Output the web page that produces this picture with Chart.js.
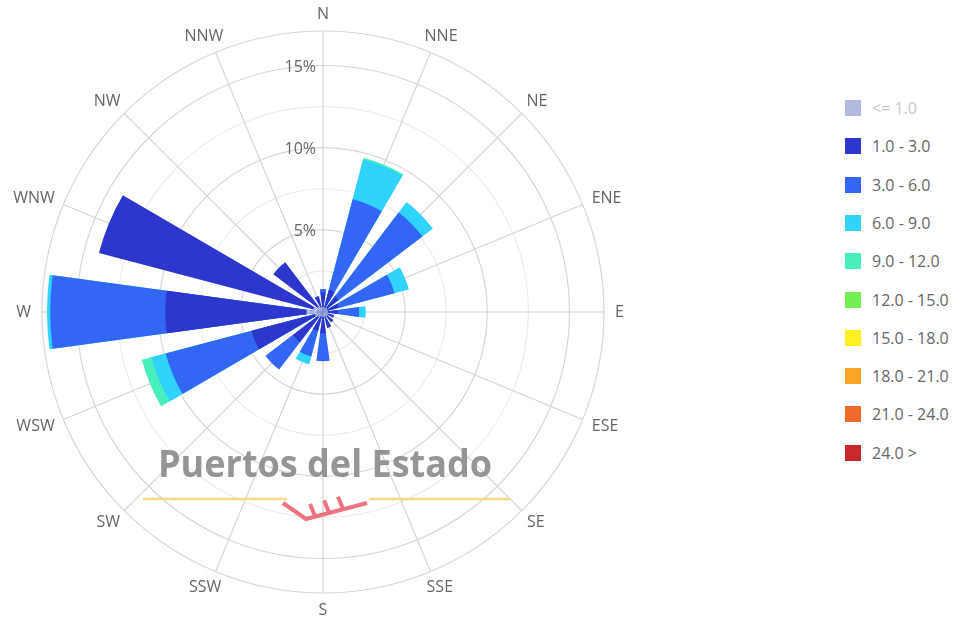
<!DOCTYPE html>
<html>
<head>
<meta charset="utf-8">
<script src="https://cdn.jsdelivr.net/npm/chart.js@4.4.1/dist/chart.umd.min.js"></script>
<style>
html,body{margin:0;padding:0;background:#fff;width:961px;height:620px;overflow:hidden;font-family:'Open Sans',sans-serif}
#wrap{position:absolute;left:0;top:0;width:640px;height:620px}
#legend{position:absolute;left:845px;top:0;width:116px;height:620px}
.item{position:absolute;left:0;height:20px;display:flex;align-items:center;white-space:nowrap;font-size:16px;color:#666}
.box{width:16px;height:16px;margin-right:11px;flex:none}
</style>
</head>
<body>
<div id="wrap"><canvas id="c"></canvas></div>
<div id="legend"></div>
<script>
// ---- data ----
const directions = ['N','NNE','NE','ENE','E','ESE','SE','SSE','S','SSW','SW','WSW','W','WNW','NW','NNW'];
const speedBins = ['<= 1.0','1.0 - 3.0','3.0 - 6.0','6.0 - 9.0','9.0 - 12.0','12.0 - 15.0','15.0 - 18.0','18.0 - 21.0','21.0 - 24.0','24.0 >'];
const binColors = ['#b3b9de','#2c35cc','#3366f5','#2fd3fb','#48efbd','#72f052','#fff024','#ffa526','#f06a2a','#c62a2c'];
// frequency (%) by direction for each speed bin
const freqLe1   = [0.3,0.3,0.3,0.3,0.3,0.3,0.3,0.3,0.3,0.3,0.4,0.5,1.0,0.6,0.4,0.3];
const freq1to3  = [0.9,1.1,0.9,0.7,0.6,0.4,0.5,0.7,1.0,0.9,1.9,4.0,8.6,13.5,3.4,0.7];
const freq3to6  = [0.2,5.7,6.4,3.5,1.3,0,0,0,1.7,1.6,2.1,5.4,7.0,0,0,0];
const freq6to9  = [0,2.5,0.8,0.9,0.4,0,0,0,0,0.5,0,0.9,0.2,0,0,0];
const freq9to12 = [0,0.1,0,0,0,0,0,0,0,0,0,0.6,0,0,0,0];
const freq12to15 = [0,0,0,0,0,0,0,0,0,0,0,0,0,0,0,0];
const freq15to18 = [0,0,0,0,0,0,0,0,0,0,0,0,0,0,0,0];
const freq18to21 = [0,0,0,0,0,0,0,0,0,0,0,0,0,0,0,0];
const freq21to24 = [0,0,0,0,0,0,0,0,0,0,0,0,0,0,0,0];
const freqOver24 = [0,0,0,0,0,0,0,0,0,0,0,0,0,0,0,0];
const ringValues = [0,2.5,5,7.5,10,12.5,15,17.1];
const labeledTicks = [5,10,15];

// ---- build stacked (cumulative) datasets ----
const bins = [freqLe1,freq1to3,freq3to6,freq6to9,freq9to12,freq12to15,freq15to18,freq18to21,freq21to24,freqOver24];
const BAR_ANGLE = 15.5;
const SECTOR = 360 / directions.length;
const LABEL_GAP = 11;
let running = directions.map(() => 0);
const cumulative = bins.map(b => { running = running.map((v, i) => v + b[i]); return running.slice(); });
function expand(vals, own) {
  const out = [0];
  vals.forEach((v, i) => { if (i > 0) out.push(0); out.push(own[i] > 0 ? v : 0); });
  return out;
}
const datasets = speedBins.map((name, k) => ({
  label: name,
  data: expand(cumulative[k], bins[k]),
  backgroundColor: binColors[k],
  borderWidth: 0,
  angle: ctx => ctx.dataIndex === 0 ? -BAR_ANGLE / 2 : (ctx.dataIndex % 2 ? BAR_ANGLE : SECTOR - BAR_ANGLE)
}));

Chart.defaults.font.family = "'Open Sans', sans-serif";

const tickLabelPlugin = {
  id: 'tickLabels',
  afterDraw(chart) {
    const s = chart.scales.r, ctx = chart.ctx;
    ctx.save();
    ctx.font = "16px 'Open Sans'";
    ctx.fillStyle = '#666';
    ctx.textAlign = 'right';
    ctx.textBaseline = 'middle';
    labeledTicks.forEach(v => {
      const d = s.getDistanceFromCenterForValue(v);
      ctx.fillText(v + '%', s.xCenter - 7, s.yCenter - d + 2);
    });
    // direction labels around the rose
    ctx.textAlign = 'center';
    const R = s.getDistanceFromCenterForValue(s.max) + LABEL_GAP;
    directions.forEach((d, i) => {
      const a = s.getIndexAngle(i);
      const p = s.getPointPosition(i, R);
      const w = ctx.measureText(d).width;
      ctx.fillText(d, p.x + Math.sin(a) * w / 2, p.y - Math.cos(a) * 6);
    });
    ctx.restore();
  }
};

const watermarkPlugin = {
  id: 'watermark',
  afterDatasetsDraw(chart) {
    const s = chart.scales.r, ctx = chart.ctx;
    const cx = s.xCenter, cy = s.yCenter;
    ctx.save();
    // yellow rules
    ctx.strokeStyle = '#f6d88c';
    ctx.lineWidth = 2.5;
    ctx.beginPath();
    ctx.moveTo(cx - 180, cy + 187); ctx.lineTo(cx - 36, cy + 187);
    ctx.moveTo(cx + 46, cy + 187); ctx.lineTo(cx + 187, cy + 187);
    ctx.stroke();
    // pink logo
    ctx.strokeStyle = '#ec7480';
    ctx.lineWidth = 4;
    ctx.beginPath();
    ctx.moveTo(cx - 40, cy + 191); ctx.lineTo(cx - 17, cy + 207); ctx.lineTo(cx + 44, cy + 191);
    ctx.stroke();
    ctx.beginPath();
    [0, 14, 28].forEach(o => {
      ctx.moveTo(cx - 8 + o, cy + 204 - o * 0.26); ctx.lineTo(cx - 13 + o, cy + 192 - o * 0.26);
    });
    ctx.stroke();
    // text
    ctx.globalAlpha = 0.9;
    ctx.fillStyle = '#8a8a8a';
    ctx.font = "bold 37px 'Open Sans'";
    ctx.textAlign = 'center';
    ctx.textBaseline = 'alphabetic';
    const txt = 'Puertos del Estado';
    const w = ctx.measureText(txt).width;
    const sx = Math.min(1, 334 / w);
    ctx.translate(cx + 2, cy + 165);
    ctx.scale(sx, 1);
    ctx.fillText(txt, 0, 0);
    ctx.restore();
  }
};

const chart = new Chart(document.getElementById('c'), {
  type: 'polarArea',
  data: { labels: directions, datasets },
  options: {
    responsive: true,
    maintainAspectRatio: false,
    animation: false,
    events: [],
    layout: { padding: { left: 42, top: 31, right: 36, bottom: 27 } },
    plugins: { legend: { display: false }, tooltip: { enabled: false } },
    scales: {
      r: {
        min: 0,
        max: ringValues[ringValues.length - 1],
        startAngle: 0,
        afterBuildTicks: scale => { scale.ticks = ringValues.map(v => ({ value: v })); },
        ticks: { display: false },
        grid: {
          circular: true,
          lineWidth: 1.2,
          color: ctx => (ctx.tick && (ctx.tick.value % 5 === 0 || ctx.tick.value === ringValues[ringValues.length - 1])) ? '#d7d7d7' : '#ececec'
        },
        angleLines: { display: true, color: '#d4d4d4', lineWidth: 1.2 },
        pointLabels: { display: false }
      }
    }
  },
  plugins: [tickLabelPlugin, watermarkPlugin]
});

// ---- legend ----
const legend = document.getElementById('legend');
speedBins.forEach((name, k) => {
  const row = document.createElement('div');
  row.className = 'item';
  row.style.top = (98 + 38.3 * k) + 'px';
  if (k === 0) row.style.color = '#c8c8c8';
  const box = document.createElement('div');
  box.className = 'box';
  box.style.background = binColors[k];
  const t = document.createElement('span');
  t.textContent = name;
  row.appendChild(box); row.appendChild(t);
  legend.appendChild(row);
});
</script>
</body>
</html>
